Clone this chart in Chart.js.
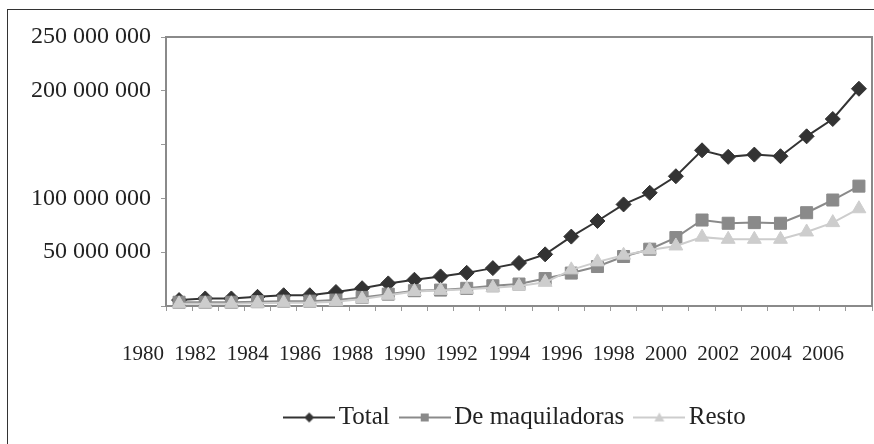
<!DOCTYPE html>
<html>
<head>
<meta charset="utf-8">
<script src="https://cdn.jsdelivr.net/npm/chart.js@4/dist/chart.umd.min.js"></script>
<style>
html, body { margin: 0; padding: 0; background: #fff; overflow: hidden; }
#wrap { position: relative; width: 874px; height: 444px; }
#frame { position: absolute; left: 7px; top: 9px; width: 900px; height: 500px; border: 1.5px solid #333; }
canvas { position: absolute; left: 0; top: 0; }
</style>
</head>
<body>
<div id="wrap"><div id="frame"></div><canvas id="chart" width="874" height="444"></canvas></div>
<script>
"use strict";

// values in millions
const YEARS = ["1980","1981","1982","1983","1984","1985","1986","1987","1988","1989",
               "1990","1991","1992","1993","1994","1995","1996","1997","1998","1999",
               "2000","2001","2002","2003","2004","2005","2006"];
const TOTAL = [5.5, 7, 7, 8.5, 10, 10, 13, 16.5, 21, 24.4, 27.5, 30.8, 35.2, 40, 48,
               64.5, 79, 94.4, 105.2, 120.6, 144.7, 138.6, 140.7, 139.2, 157.7, 173.8, 201.9];
const MAQUILADORAS = [3.5, 3.5, 3.5, 4, 4.5, 4.5, 5.5, 8, 11, 14.2, 14.8, 16.4, 18.8, 20.4, 25.5,
                      30.6, 36.7, 46, 52.8, 63.6, 79.9, 76.9, 77.5, 76.9, 86.7, 98.5, 111.4];
const RESTO = [2, 2, 2, 2.5, 3, 3, 4, 6.5, 10, 13.5, 14.5, 15.5, 17, 18.5, 22,
               33.6, 41, 47.2, 52.1, 55.8, 64, 62, 62, 62, 68.8, 77.5, 90.4];
const Y_NO_LABEL = [0, 150];

const FONT = "'Liberation Serif', 'DejaVu Serif', serif";
const TEXT = "#222";

const SERIES = [
    { label: "Total",           data: TOTAL,        color: "#333333", style: "rectRot",  radius: 7.5, order: 2 },
    { label: "De maquiladoras", data: MAQUILADORAS, color: "#8a8a8a", style: "rect",     radius: 8.5, order: 1 },
    { label: "Resto",           data: RESTO,        color: "#cdcdcd", style: "triangle", radius: 8,   order: 0 }
];

function spaced(n) {
    return String(n).replace(/\B(?=(\d{3})+(?!\d))/g, " ");
}

// little "line + marker" sample for the legend
function legendIcon(color, style) {
    const c = document.createElement("canvas");
    c.width = 52; c.height = 16;
    const g = c.getContext("2d");
    g.strokeStyle = color; g.lineWidth = 2;
    g.beginPath(); g.moveTo(0, 8); g.lineTo(52, 8); g.stroke();
    g.fillStyle = color;
    g.beginPath();
    if (style === "rectRot") { g.moveTo(26, 3); g.lineTo(31, 8); g.lineTo(26, 13); g.lineTo(21, 8); }
    else if (style === "rect") { g.rect(22, 4, 8, 8); }
    else { g.moveTo(26, 3); g.lineTo(31, 12); g.lineTo(21, 12); }
    g.closePath(); g.fill();
    return c;
}

const plotFrame = {
    id: "plotFrame",
    beforeDatasetsDraw(chart) {
        const { ctx, chartArea: a } = chart;
        ctx.save();
        ctx.strokeStyle = "#8a8a8a";
        ctx.lineWidth = 2;
        ctx.strokeRect(a.left, a.top, a.right - a.left, a.bottom - a.top);
        ctx.restore();
    }
};

const chart = new Chart(document.getElementById("chart").getContext("2d"), {
    type: "line",
    data: {
        labels: YEARS,
        datasets: SERIES.map(s => ({
            label: s.label,
            data: s.data,
            borderColor: s.color,
            backgroundColor: s.color,
            pointBackgroundColor: s.color,
            pointBorderColor: s.color,
            pointBorderWidth: 1,
            pointStyle: s.style,
            pointRadius: s.radius,
            borderWidth: 2,
            tension: 0,
            clip: false,
            order: s.order
        }))
    },
    options: {
        responsive: false,
        animation: false,
        layout: { autoPadding: false, padding: { top: 37, right: 2, bottom: 4, left: 0 } },
        plugins: {
            tooltip: { enabled: false },
            legend: {
                position: "bottom",
                fullSize: false,
                labels: {
                    usePointStyle: true,
                    pointStyleWidth: 34,
                    boxHeight: 16,
                    padding: 18,
                    color: TEXT,
                    font: { family: FONT, size: 25 },
                    generateLabels: () => SERIES.map((s, i) => ({
                        text: s.label,
                        pointStyle: legendIcon(s.color, s.style),
                        fillStyle: s.color,
                        strokeStyle: s.color,
                        lineWidth: 0,
                        hidden: false,
                        fontColor: TEXT,
                        datasetIndex: i
                    }))
                }
            }
        },
        scales: {
            x: {
                offset: true,
                border: { display: false },
                // long tick whose dash only shows the first 5 px: pushes the labels down
                grid: { offset: true, drawOnChartArea: false, drawTicks: true, tickLength: 36,
                        tickBorderDash: [5, 200], color: "#999" },
                ticks: {
                    autoSkip: false, maxRotation: 0, minRotation: 0,
                    align: "end", labelOffset: -15, padding: 0,
                    color: TEXT, font: { family: FONT, size: 21 },
                    callback: (v, i) => Number(YEARS[i]) % 2 === 0 ? YEARS[i] : ""
                },
                afterFit: s => { s.height = 81; s.paddingRight = 0; }
            },
            y: {
                min: 0, max: 250,
                border: { display: false },
                grid: { drawOnChartArea: false, drawTicks: true, tickLength: 5, color: "#999" },
                ticks: {
                    stepSize: 50, padding: 10,
                    color: TEXT, font: { family: FONT, size: 24 },
                    callback: v => Y_NO_LABEL.includes(v) ? "" : spaced(v * 1000000)
                },
                afterFit: s => { s.width = 166; }
            }
        }
    },
    plugins: [plotFrame]
});
</script>
</body>
</html>
